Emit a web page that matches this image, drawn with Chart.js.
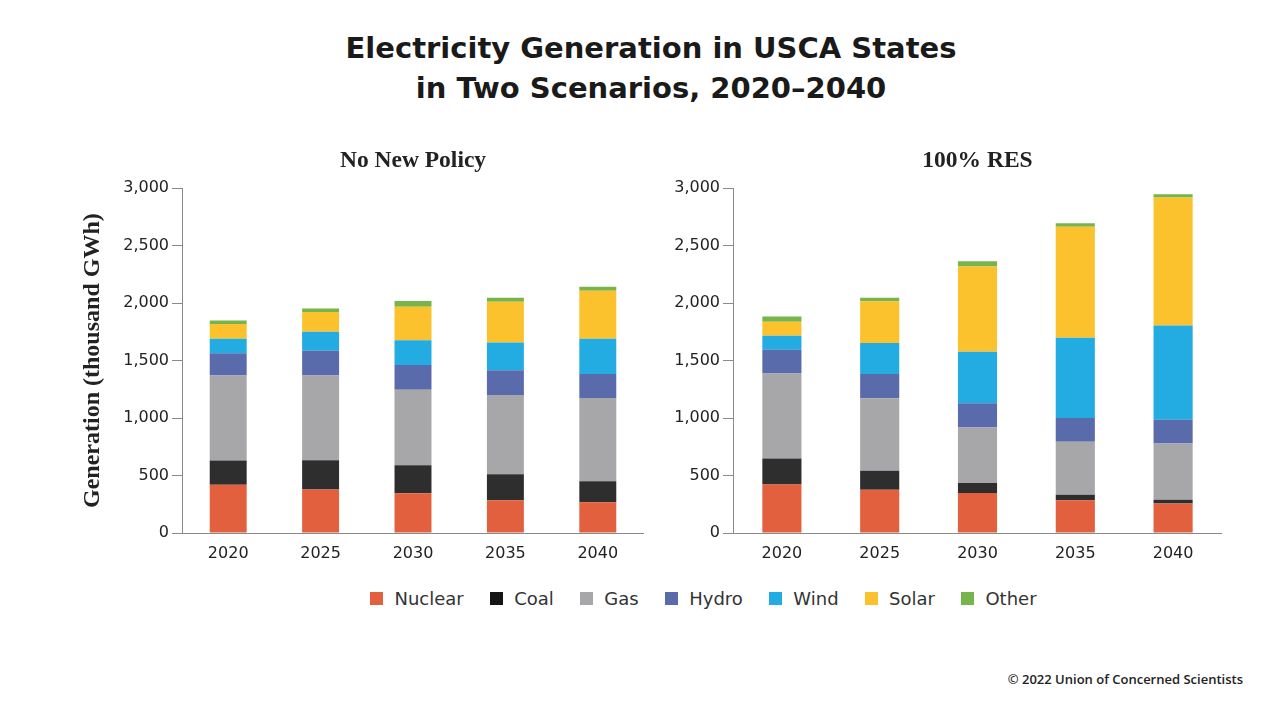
<!DOCTYPE html>
<html>
<head>
<meta charset="utf-8">
<script src="https://cdn.jsdelivr.net/npm/chart.js@4.4.1/dist/chart.umd.min.js"></script>
<style>
  html, body { margin:0; padding:0; background:#fff; width:1280px; height:702px; overflow:hidden; position:relative; }
  #title { position:absolute; left:0; top:28px; width:1302px; text-align:center; font-family:'DejaVu Sans', sans-serif; font-weight:bold; font-size:29px; line-height:40px; color:#1a1a1a; }
  .wrap { position:absolute; top:140px; height:423px; }
  #wrap1 { left:78px; width:566px; }
  #wrap2 { left:663px; width:559px; }
  #legend { position:absolute; left:0; top:588px; width:1407px; height:20px; display:flex; justify-content:center; align-items:center; gap:26.5px; font-family:'DejaVu Sans', sans-serif; font-size:18px; color:#333; }
  .item { display:flex; align-items:center; white-space:nowrap; }
  .sw { width:13px; height:13px; margin-right:11px; }
  #credit { position:absolute; right:37px; top:671px; font-family:'Open Sans', sans-serif; font-weight:600; font-size:13px; line-height:16px; color:#222; }
</style>
</head>
<body>
<div id="title">Electricity Generation in USCA States<br>in Two Scenarios, 2020–2040</div>
<div class="wrap" id="wrap1"><canvas id="c1" width="566" height="423"></canvas></div>
<div class="wrap" id="wrap2"><canvas id="c2" width="559" height="423"></canvas></div>
<div id="legend"></div>
<div id="credit">© 2022 Union of Concerned Scientists</div>
<script>
// ---- Data ----
const years = ['2020', '2025', '2030', '2035', '2040'];
const seriesNames = ['Nuclear', 'Coal', 'Gas', 'Hydro', 'Wind', 'Solar', 'Other'];
const yTicks = [0, 500, 1000, 1500, 2000, 2500, 3000];

// No New Policy (thousand GWh)
const nuclearNoPolicy = [420, 378, 346, 285, 268];
const coalNoPolicy    = [210, 255, 243, 226, 182];
const gasNoPolicy     = [740, 738, 658, 690, 725];
const hydroNoPolicy   = [195, 215, 215, 214, 208];
const windNoPolicy    = [125, 165, 214, 243, 307];
const solarNoPolicy   = [128, 171, 292, 354, 417];
const otherNoPolicy   = [30, 31, 50, 35, 35];

// 100% RES (thousand GWh)
const nuclearRES = [423, 376, 347, 286, 257];
const coalRES    = [226, 165, 87, 47, 32];
const gasRES     = [739, 632, 483, 462, 489];
const hydroRES   = [206, 211, 212, 206, 208];
const windRES    = [122, 270, 448, 698, 820];
const solarRES   = [122, 362, 741, 966, 1114];
const otherRES   = [46, 31, 46, 29, 28];

// ---- Styles ----
const seriesColors = ['#E2603E', '#2E2E2E', '#A7A7AA', '#5A6BAC', '#22ACE2', '#FBC22E', '#77B54C'];
const legendColors = ['#E2603E', '#151515', '#A7A7AA', '#5A6BAC', '#22ACE2', '#FBC22E', '#77B54C'];

const noPolicy = [nuclearNoPolicy, coalNoPolicy, gasNoPolicy, hydroNoPolicy, windNoPolicy, solarNoPolicy, otherNoPolicy];
const res = [nuclearRES, coalRES, gasRES, hydroRES, windRES, solarRES, otherRES];

const axisColor = '#8a8a8a';
const tickFont = { family: 'DejaVu Sans', size: 16 };
const serifFont = { family: 'Liberation Serif', size: 23.5, weight: 'bold' };

function makeChart(id, subtitle, values, yWidth, showYTitle) {
  return new Chart(document.getElementById(id), {
    type: 'bar',
    data: {
      labels: years,
      datasets: seriesNames.map((n, i) => ({
        label: n,
        data: values[i],
        backgroundColor: seriesColors[i],
        borderWidth: 0,
        barPercentage: 0.4,
        categoryPercentage: 1.0
      }))
    },
    options: {
      responsive: false,
      animation: false,
      layout: { padding: { top: 7, left: 0, right: 0, bottom: 0 } },
      plugins: {
        legend: { display: false },
        tooltip: { enabled: false },
        title: {
          display: true,
          text: subtitle,
          fullSize: false,
          color: '#222',
          font: serifFont,
          padding: { top: 0, bottom: 13 }
        }
      },
      scales: {
        x: {
          stacked: true,
          grid: { display: false, drawTicks: false },
          border: { display: true, color: axisColor, width: 1 },
          ticks: { color: '#222', font: tickFont, padding: 11 },
          afterFit: s => { s.height = 30; }
        },
        y: {
          stacked: true,
          min: 0,
          max: 3000,
          afterBuildTicks: s => { s.ticks = yTicks.map(v => ({ value: v })); },
          grid: { display: true, drawOnChartArea: false, drawTicks: true, tickLength: 10, color: axisColor, lineWidth: 1 },
          border: { display: true, color: axisColor, width: 1 },
          ticks: {
            color: '#222',
            font: tickFont,
            padding: 3,
            callback: v => v.toLocaleString('en-US')
          },
          title: {
            display: showYTitle,
            text: 'Generation (thousand GWh)',
            color: '#222',
            font: { family: 'Liberation Serif', size: 24, weight: 'bold' },
            padding: { top: 0, bottom: 0 }
          },
          afterFit: s => { s.width = yWidth; }
        }
      }
    }
  });
}

makeChart('c1', 'No New Policy', noPolicy, 104, true);
makeChart('c2', '100% RES', res, 70, false);

// Legend
const lg = document.getElementById('legend');
seriesNames.forEach((n, i) => {
  const it = document.createElement('div');
  it.className = 'item';
  const sw = document.createElement('span');
  sw.className = 'sw';
  sw.style.background = legendColors[i];
  const tx = document.createElement('span');
  tx.textContent = n;
  it.appendChild(sw);
  it.appendChild(tx);
  lg.appendChild(it);
});
</script>
</body>
</html>
